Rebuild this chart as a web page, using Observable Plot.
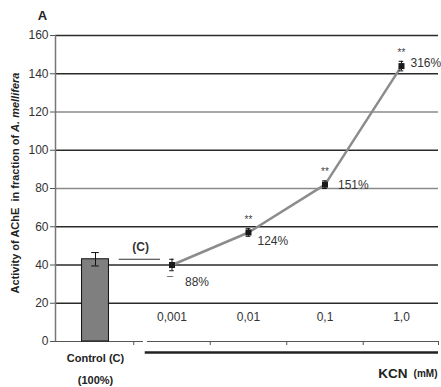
<!DOCTYPE html>
<html>
<head>
<meta charset="utf-8">
<script src="https://cdn.jsdelivr.net/npm/d3@7"></script>
<script src="https://cdn.jsdelivr.net/npm/@observablehq/plot@0.6"></script>
<style>
  html, body { margin: 0; padding: 0; background: #fff; }
  svg { font-family: "Liberation Sans", Arial, sans-serif; }
</style>
</head>
<body>
<div id="chart"></div>
<script>
// ---- data ----
const controlLabel = "Control (C)";
const controlPct = "(100%)";
const controlValue = 43;
const controlErr = 3.5;

const concentrations = ["0,001", "0,01", "0,1", "1,0"];
const activity = [40, 57, 82, 144];
const activityErr = [3, 2, 2, 2.5];
const percentLabels = ["88%", "124%", "151%", "316%"];
const significance = ["", "**", "**", "**"];
const nonSignificant = ["–", "", "", ""];

const yTicks = [0, 20, 40, 60, 80, 100, 120, 140, 160];
const darkGrid = [20, 40, 60, 100, 140, 160];
const lightGrid = [80, 120];

// ---- build tables (index positions from category order) ----
const control = [{i: 0, v: controlValue, e: controlErr}];
const pts = concentrations.map((c, k) => ({
  i: k + 1, c, v: activity[k], e: activityErr[k],
  pct: percentLabels[k], sig: significance[k], ns: nonSignificant[k]
}));
const xMin = -0.523, xMax = 4.484;
const sepTicks = [0.5, 1.5, 2.5, 3.5, xMax];

// label layout (pixel offsets for % labels)
const pctOffset = {"0,001": [13, 17], "0,01": [9, 9], "0,1": [13, 0], "1,0": [9, -3]};

const barHalf = 0.176, capHalf = 0.05;

const chart = Plot.plot({
  width: 441,
  height: 387,
  marginTop: 35,
  marginLeft: 55,
  marginRight: 3,
  marginBottom: 46,
  x: {domain: [xMin, xMax], axis: null, label: null},
  y: {domain: [0, 160], axis: null, label: null},
  style: {fontFamily: "Liberation Sans, Arial, sans-serif", background: "white"},
  marks: [
    // gridlines
    Plot.ruleY(lightGrid, {stroke: "#8a8a8a", strokeWidth: 1.6}),
    Plot.ruleY(darkGrid, {stroke: "#2a2a2a", strokeWidth: 1.6}),
    // y axis
    Plot.ruleX([xMin], {y1: 0, y2: 160, stroke: "#777", strokeWidth: 1.5}),
    Plot.axisY(yTicks, {tickSize: 5, tickPadding: 2, fontSize: 12, fill: "#333", stroke: "#555", label: null}),
    // x axis line segments
    Plot.ruleY([0], {x1: xMin, x2: 0.627, stroke: "#555", strokeWidth: 1.2}),
    Plot.ruleY([0], {x1: 0.68, x2: xMax, stroke: "#555", strokeWidth: 1.2}),
    Plot.axisX(sepTicks, {tickSize: 4, tickFormat: () => "", stroke: "#555", label: null}),
    Plot.ruleY([0], {x1: 0.65, x2: xMax, dy: 11, stroke: "#222", strokeWidth: 2.5}),
    // control bar
    Plot.rectY(control, {x1: d => d.i - barHalf, x2: d => d.i + barHalf, y: "v", fill: "#7f7f7f", stroke: "#111", strokeWidth: 1}),
    Plot.ruleX(control, {x: "i", y1: d => d.v - d.e, y2: d => d.v + d.e, stroke: "#111"}),
    Plot.ruleY(control, {y: d => d.v - d.e, x1: d => d.i - capHalf, x2: d => d.i + capHalf, stroke: "#111"}),
    Plot.ruleY(control, {y: d => d.v + d.e, x1: d => d.i - capHalf, x2: d => d.i + capHalf, stroke: "#111"}),
    // (C) reference line
    Plot.ruleY(control, {y: "v", x1: 0.31, x2: 0.85, stroke: "#333", strokeWidth: 1}),
    Plot.text(control, {x: 0.59, y: "v", text: () => "(C)", dy: -12, fontSize: 12, fontWeight: "bold", fill: "#333"}),
    // line through treatments
    Plot.line(pts, {x: "i", y: "v", stroke: "#8c8c8c", strokeWidth: 2.5}),
    // error bars
    Plot.ruleX(pts, {x: "i", y1: d => d.v - d.e, y2: d => d.v + d.e, stroke: "#111"}),
    Plot.ruleY(pts, {y: d => d.v - d.e, x1: d => d.i - capHalf * 0.6, x2: d => d.i + capHalf * 0.6, stroke: "#111"}),
    Plot.ruleY(pts, {y: d => d.v + d.e, x1: d => d.i - capHalf * 0.6, x2: d => d.i + capHalf * 0.6, stroke: "#111"}),
    // markers
    Plot.dot(pts, {x: "i", y: "v", symbol: "square", r: 3.4, fill: "#1a1a1a", stroke: "none"}),
    // significance
    Plot.text(pts, {x: "i", y: "v", text: "sig", dy: -13, fontSize: 10, fill: "#444"}),
    Plot.text(pts, {x: "i", y: "v", text: "ns", dy: 10, dx: -2, fontSize: 11, fill: "#555"}),
    // percent labels
    Plot.text(pts, {x: "i", y: "v", text: "pct", textAnchor: "start",
      fontSize: 12, fill: "#333",
      render: (index, scales, values, dims, context, next) => {
        const g = next(index, scales, values, dims, context);
        d3.select(g).selectAll("text").each(function(_, j) {
          const d = pts[index[j]];
          const [ox, oy] = pctOffset[d.c];
          const t = d3.select(this);
          const tr = t.attr("transform") || "";
          t.attr("transform", tr + ` translate(${ox},${oy})`);
        });
        return g;
      }}),
    // concentration labels inside plot
    Plot.text(pts, {x: "i", y: 0, text: "c", dy: -24, fontSize: 12, fill: "#333"}),
    // control labels below axis
    Plot.text(control, {x: "i", y: 0, text: () => controlLabel, dy: 17, fontSize: 11, fontWeight: "bold", fill: "#222"}),
    Plot.text(control, {x: "i", y: 0, text: () => controlPct, dy: 39, fontSize: 11, fontWeight: "bold", fill: "#222"}),
    // KCN (mM)
    Plot.text([xMax], {x: d => d, y: 0, text: () => "(mM)", textAnchor: "end", dy: 32, dx: -1, fontSize: 10, fontWeight: "bold", fill: "#222"}),
    Plot.text([xMax], {x: d => d, y: 0, text: () => "KCN", textAnchor: "end", dy: 32, dx: -31, fontSize: 13.5, fontWeight: "bold", fill: "#222"}),
    // panel letter
    Plot.text([xMin], {x: d => d, y: 160, text: () => "A", dx: -13, dy: -20, fontSize: 13, fontWeight: "bold", fill: "#222"})
  ]
});

// y-axis title with italic species name
const t = d3.select(chart).append("text")
  .attr("transform", "translate(15,183) rotate(-90)")
  .attr("text-anchor", "middle")
  .attr("dominant-baseline", "central")
  .attr("font-size", 11)
  .attr("font-weight", "bold")
  .attr("fill", "#222");
t.append("tspan").text("Activity of AChE\u00a0\u00a0in fraction of ");
t.append("tspan").attr("font-style", "italic").text("A. mellifera");

document.getElementById("chart").appendChild(chart);
</script>
</body>
</html>
